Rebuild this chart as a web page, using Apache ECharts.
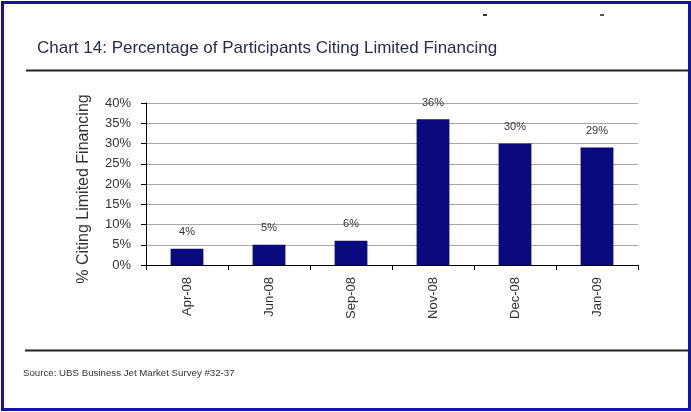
<!DOCTYPE html>
<html>
<head>
<meta charset="utf-8">
<script src="https://cdn.jsdelivr.net/npm/echarts@6/dist/echarts.min.js"></script>
<style>
  html, body { margin: 0; padding: 0; background: #fff; }
  #chart { width: 691px; height: 412px; }
</style>
</head>
<body>
<div id="chart"></div>
<script>
// Survey months and share of participants citing limited financing (%)
const months = ['Apr-08', 'Jun-08', 'Sep-08', 'Nov-08', 'Dec-08', 'Jan-09'];
const citingPct = [4, 5, 6, 36, 30, 29];
const yTicks = { min: 0, max: 40, interval: 5 };

const titleText = 'Chart 14: Percentage of Participants Citing Limited Financing';
const yAxisTitle = '% Citing Limited Financing';
const sourceText = 'Source: UBS Business Jet Market Survey #32-37';

const font = 'Liberation Sans, Arial, sans-serif';
const chart = echarts.init(document.getElementById('chart'), null, { renderer: 'canvas' });

chart.setOption({
  backgroundColor: '#ffffff',
  animation: false,
  title: {
    text: titleText,
    left: 32,
    top: 35,
    textStyle: { fontFamily: font, fontSize: 17, fontWeight: 'normal', color: '#2a2d4a' }
  },
  grid: { left: 146, top: 103, right: 53, bottom: 147, containLabel: false },
  xAxis: {
    type: 'category',
    data: months,
    axisLine: { lineStyle: { color: '#000', width: 1 } },
    axisTick: { show: true, length: 5, lineStyle: { color: '#000' } },
    axisLabel: {
      rotate: 90,
      margin: 12,
      fontFamily: font,
      fontSize: 13,
      color: '#333'
    }
  },
  yAxis: {
    type: 'value',
    min: yTicks.min,
    max: yTicks.max,
    interval: yTicks.interval,
    name: yAxisTitle,
    nameLocation: 'middle',
    nameGap: 54,
    nameTextStyle: { fontFamily: font, fontSize: 16, color: '#333', padding: [0, 10, 0, 0] },
    axisLine: { show: true, lineStyle: { color: '#000', width: 1 } },
    axisTick: { show: true, length: 5, lineStyle: { color: '#000' } },
    axisLabel: {
      formatter: '{value}%',
      margin: 15,
      fontFamily: font,
      fontSize: 13,
      color: '#333'
    },
    splitLine: { show: true, lineStyle: { color: '#a8a8a8', width: 1 } }
  },
  series: [{
    type: 'bar',
    data: citingPct,
    barWidth: '40%',
    itemStyle: { color: '#0a0a7e' },
    label: {
      show: true,
      position: 'top',
      distance: 11,
      formatter: '{c}%',
      fontFamily: font,
      fontSize: 11,
      color: '#333'
    }
  }],
  graphic: [
    // page frame
    { type: 'rect', shape: { x: 2.5, y: 2.5, width: 687, height: 407 },
      style: { fill: null, stroke: '#1414a0', lineWidth: 3 }, silent: true },
    // rule under the heading
    { type: 'line', shape: { x1: 26, y1: 70.5, x2: 688, y2: 70.5 },
      style: { stroke: '#222', lineWidth: 2 }, silent: true },
    // rule above the source note
    { type: 'line', shape: { x1: 25, y1: 350.5, x2: 688, y2: 350.5 },
      style: { stroke: '#222', lineWidth: 2 }, silent: true },
    // small marks along the top edge
    { type: 'rect', shape: { x: 483, y: 14, width: 4, height: 2 },
      style: { fill: '#333' }, silent: true },
    { type: 'rect', shape: { x: 600, y: 14, width: 4, height: 2 },
      style: { fill: '#555' }, silent: true },
    // source note
    { type: 'text', left: 23, top: 368,
      style: { text: sourceText, font: '9.7px ' + font, fill: '#333' }, silent: true }
  ]
});
</script>
</body>
</html>
